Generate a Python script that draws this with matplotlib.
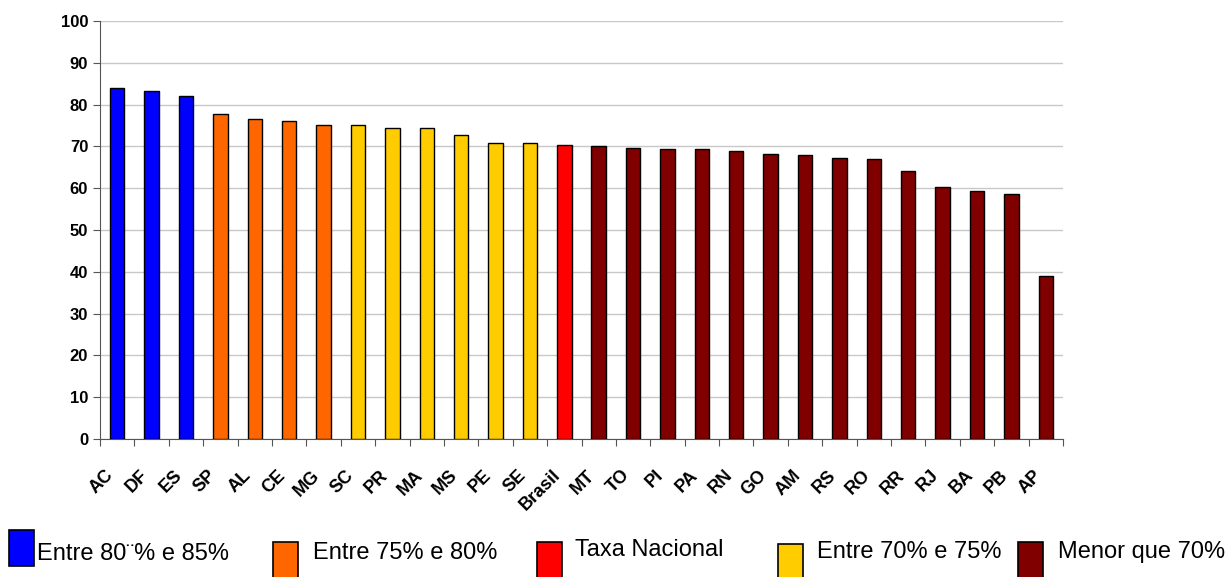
import numpy as np
import matplotlib
matplotlib.use("Agg")
import matplotlib.pyplot as plt
from matplotlib.patches import Rectangle

plt.rcParams['font.family'] = ['Liberation Sans', 'DejaVu Sans']

# data
estados = ["AC", "DF", "ES", "SP", "AL", "CE", "MG", "SC", "PR", "MA", "MS", "PE", "SE",
           "Brasil", "MT", "TO", "PI", "PA", "RN", "GO", "AM", "RS", "RO", "RR", "RJ",
           "BA", "PB", "AP"]
taxas = [84.0, 83.3, 82.1, 77.8, 76.6, 76.1, 75.1, 75.1, 74.3, 74.3, 72.7, 70.9, 70.9,
         70.3, 70.0, 69.6, 69.3, 69.3, 68.8, 68.2, 67.9, 67.2, 66.9, 64.2, 60.2,
         59.3, 58.7, 39.0]
grupos = ["azul"] * 3 + ["laranja"] * 4 + ["amarelo"] * 6 + ["vermelho"] + ["vinho"] * 14
legenda = ["Entre 80¨% e 85%", "Entre 75% e 80%", "Taxa Nacional", "Entre 70% e 75%", "Menor que 70%"]
legenda_grupos = ["azul", "laranja", "vermelho", "amarelo", "vinho"]

cores = {"azul": "#0000FF", "laranja": "#FF6600", "amarelo": "#FFCC00",
         "vermelho": "#FF0000", "vinho": "#800000"}

fig = plt.figure(figsize=(12.28, 5.77), dpi=100)
ax = fig.add_axes([100 / 1228, 1 - 439 / 577, 963 / 1228, 418 / 577])

x = np.arange(len(estados))
ax.bar(x, taxas, width=0.42, color=[cores[g] for g in grupos], edgecolor="black",
       linewidth=1, zorder=3)

ax.set_xlim(-0.5, len(estados) - 0.5)
ax.set_ylim(0, 100)
ax.set_yticks(np.arange(0, 101, 10))
ax.yaxis.grid(True, color="#c8c8c8", linewidth=1, zorder=0)
ax.set_axisbelow(True)

# ticks on category boundaries, labels at centers (Excel style)
ax.set_xticks(np.arange(-0.5, len(estados)))
ax.set_xticklabels([])
ax.tick_params(axis="x", length=5, color="#555555")
ax.tick_params(axis="y", length=5, color="#555555", labelsize=12)
for lab in ax.get_yticklabels():
    lab.set_fontweight("bold")
for i, nome in enumerate(estados):
    ax.annotate(nome, xy=(i, 0), xycoords=("data", "axes fraction"),
                xytext=(-9, -20), textcoords="offset points", rotation=45,
                ha="right", va="top", rotation_mode="anchor",
                fontweight="bold", fontsize=13)

for s in ["top", "right"]:
    ax.spines[s].set_visible(False)
for s in ["left", "bottom"]:
    ax.spines[s].set_color("#555555")

# legend drawn by hand along the bottom
caixas = [(9, 530), (273, 542), (537, 542), (778, 544), (1018, 542)]
textos = [(37, 554), (313, 553), (575, 550), (817, 552), (1058, 552)]
for (bx, by), (tx, ty), rotulo, g in zip(caixas, textos, legenda, legenda_grupos):
    fig.patches.append(Rectangle((bx / 1228, 1 - (by + 36) / 577), 25 / 1228, 36 / 577,
                                 transform=fig.transFigure, facecolor=cores[g],
                                 edgecolor="black", linewidth=1.2))
    fig.text(tx / 1228, 1 - ty / 577, rotulo, fontsize=17, va="center", ha="left")

fig.savefig("out.png", dpi=100)
